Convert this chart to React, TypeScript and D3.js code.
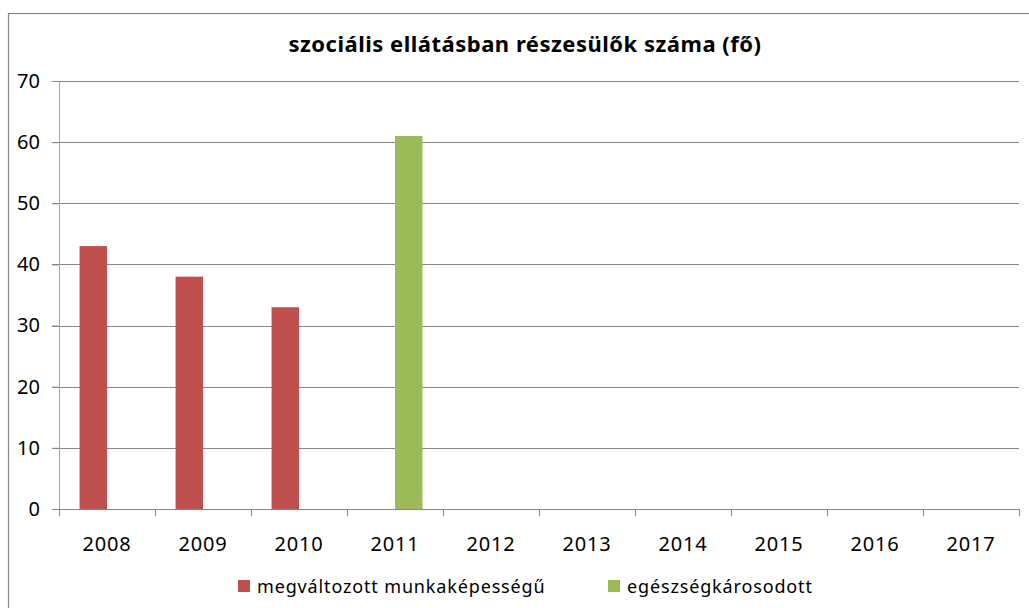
import React, { useRef, useEffect } from 'react';
import * as d3 from 'd3';

const years = ['2008', '2009', '2010', '2011', '2012', '2013', '2014', '2015', '2016', '2017'];
const seriesNames = ['megváltozott munkaképességű', 'egészségkárosodott'];
const seriesColors = ['#C0504D', '#9BBB59'];
const changedAbility = [43, 38, 33, null, null, null, null, null, null, null];
const healthDamaged = [null, null, null, 61, null, null, null, null, null, null];
const yTicks = [0, 10, 20, 30, 40, 50, 60, 70];
const title = 'szociális ellátásban részesülők száma (fő)';

const W = 1029;
const H = 608;
const FONT = "'Noto Sans', 'Open Sans', sans-serif";

const App: React.FC = () => {
  const svgRef = useRef<SVGSVGElement>(null);

  useEffect(() => {
    if (!svgRef.current) return;
    const svg = d3.select(svgRef.current);
    svg.selectAll('*').remove();

    const margin = { top: 81, right: 10, bottom: 99, left: 59 };
    const innerW = 960;
    const innerH = H - margin.top - margin.bottom;

    // outer chart border (right and bottom run off the page)
    svg.append('rect')
      .attr('x', 8.5).attr('y', 13.5)
      .attr('width', W + 20).attr('height', H + 20)
      .attr('fill', 'white').attr('stroke', '#888').attr('stroke-width', 1.2);

    svg.append('text')
      .attr('x', 525).attr('y', 52)
      .attr('text-anchor', 'middle')
      .style('font-family', FONT)
      .style('font-size', '22px')
      .style('font-weight', 'bold')
      .style('letter-spacing', '0.5px')
      .style('fill', '#000')
      .text(title);

    const g = svg.append('g').attr('transform', `translate(${margin.left},${margin.top})`);

    const x = d3.scaleBand().domain(years).range([0, innerW]).paddingInner(0).paddingOuter(0);
    const y = d3.scaleLinear().domain([0, 70]).range([innerH, 0]);
    const groupW = x.bandwidth() / 3.5 * 2;
    const x1 = d3.scaleBand().domain(['0', '1']).range([0, groupW]);

    // gridlines
    g.append('g')
      .selectAll('line')
      .data(yTicks.filter(t => t > 0))
      .enter().append('line')
      .attr('x1', -7).attr('x2', innerW)
      .attr('y1', d => Math.round(y(d)) + 0.5).attr('y2', d => Math.round(y(d)) + 0.5)
      .attr('stroke', '#868686').attr('stroke-width', 1);

    // bars
    const series = [changedAbility, healthDamaged];
    series.forEach((vals, si) => {
      g.append('g')
        .selectAll('rect')
        .data(years.map((yr, i) => ({ yr, v: vals[i] })).filter(d => d.v != null))
        .enter().append('rect')
        .attr('x', d => (x(d.yr) || 0) + (x.bandwidth() - groupW) / 2 + (x1(String(si)) || 0))
        .attr('y', d => y(d.v as number))
        .attr('width', x1.bandwidth())
        .attr('height', d => innerH - y(d.v as number))
        .attr('fill', seriesColors[si]);
    });

    // y axis
    const yAxis = g.append('g')
      .call(d3.axisLeft(y).tickValues(yTicks).tickSize(7).tickSizeOuter(0).tickFormat(d3.format('d')));
    yAxis.select('.domain').attr('stroke', '#a6a6a6');
    yAxis.selectAll('.tick line').attr('stroke', '#868686');
    yAxis.selectAll('.tick text')
      .attr('x', -19)
      .style('font-family', FONT).style('font-size', '20px').style('fill', '#000');

    // x axis
    const xAxis = g.append('g')
      .attr('transform', `translate(0,${innerH})`)
      .call(d3.axisBottom(x).tickSize(0).tickSizeOuter(0));
    xAxis.select('.domain').attr('stroke', '#868686');
    xAxis.selectAll('.tick text')
      .attr('y', 28)
      .style('font-family', FONT).style('font-size', '20px').style('fill', '#000')
      .style('letter-spacing', '0.8px');
    g.append('g')
      .selectAll('line')
      .data(d3.range(years.length + 1))
      .enter().append('line')
      .attr('x1', i => Math.round(i * x.bandwidth()) + 0.5)
      .attr('x2', i => Math.round(i * x.bandwidth()) + 0.5)
      .attr('y1', innerH).attr('y2', innerH + 7)
      .attr('stroke', '#868686');

    // legend
    const legendX = [238, 608];
    seriesNames.forEach((name, i) => {
      const lg = svg.append('g').attr('transform', `translate(${legendX[i]},580)`);
      lg.append('rect').attr('width', 12).attr('height', 12).attr('fill', seriesColors[i]);
      lg.append('text')
        .attr('x', 19).attr('y', 13)
        .style('font-family', FONT).style('font-size', '18px').style('fill', '#000')
        .style('letter-spacing', '0.85px')
        .text(name);
    });
  }, []);

  return (
    <svg
      ref={svgRef}
      width={W}
      height={H}
      style={{ position: 'absolute', left: 0, top: 0, overflow: 'hidden' }}
      viewBox={`0 0 ${W} ${H}`}
    />
  );
};

export default App;
